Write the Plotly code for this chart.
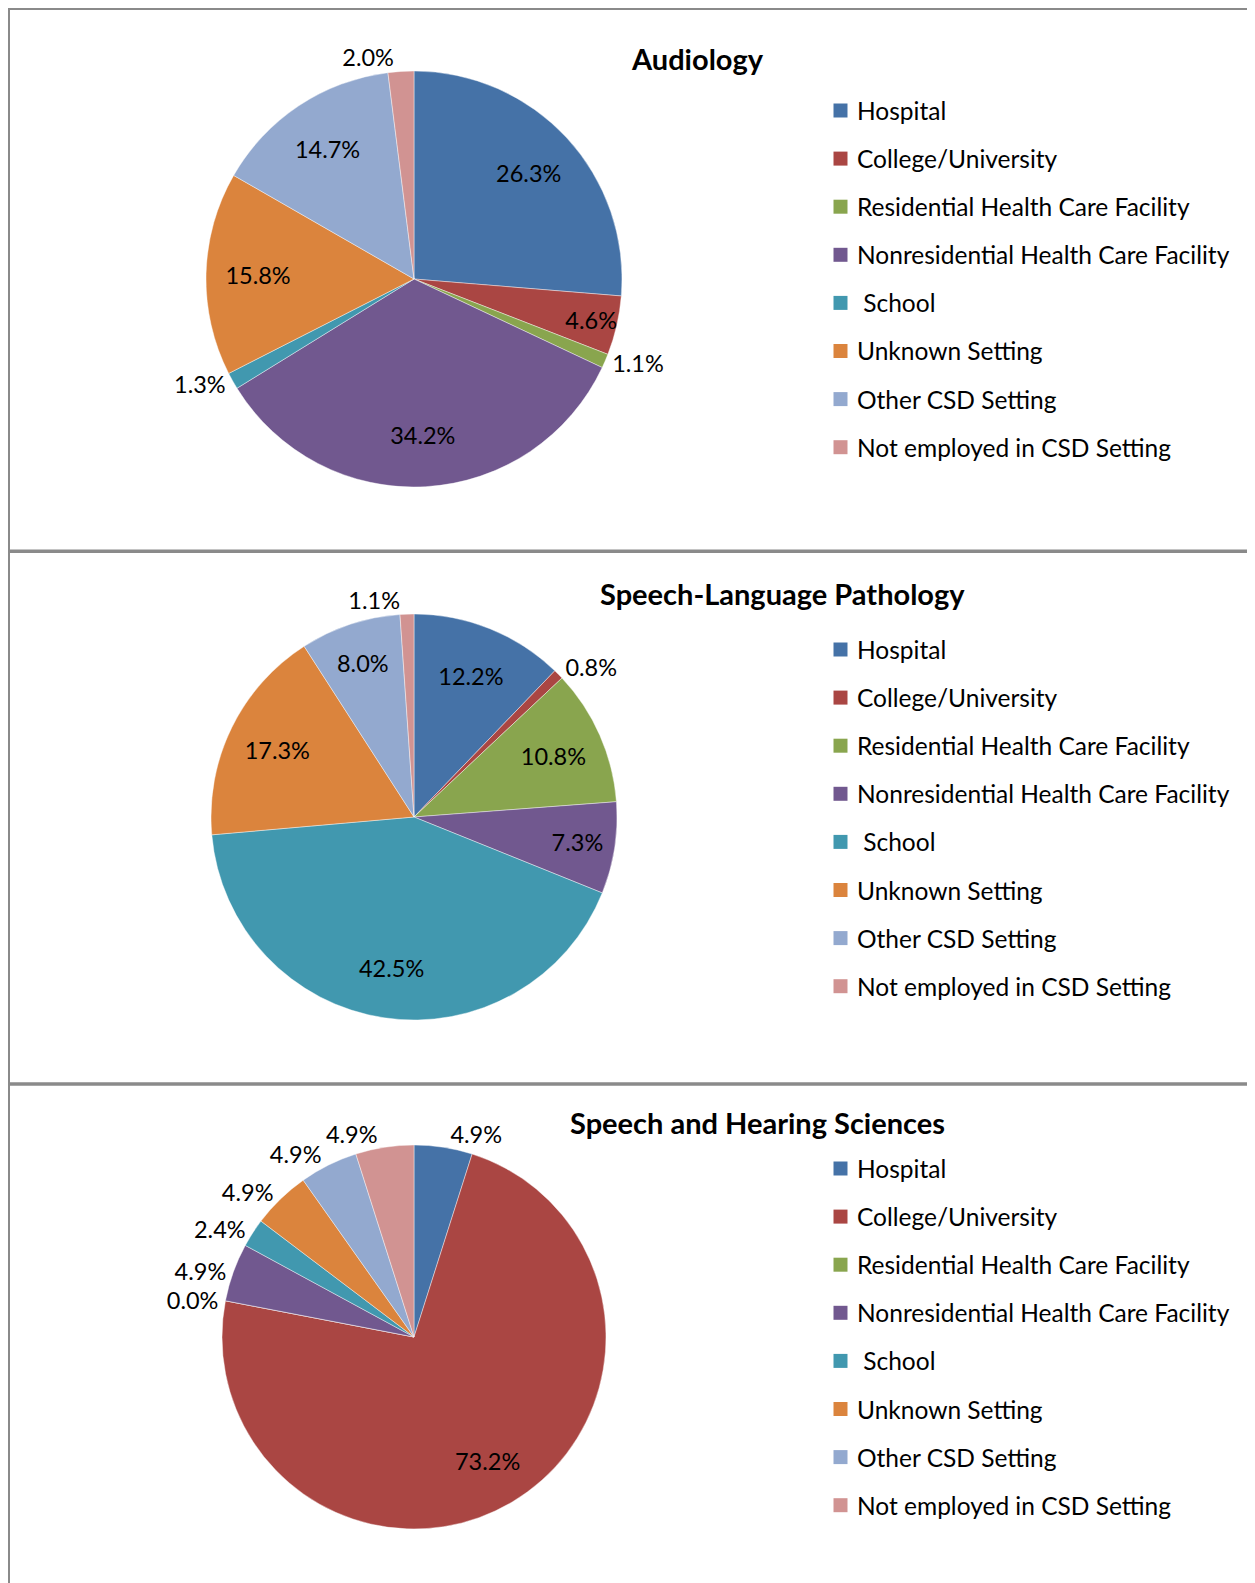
import plotly.graph_objects as go

# page is rendered with an 8px body margin, so the figure starts at (8, 8)
OFF = 8
W, H = 1247, 1575

# ---------------- data ----------------
categories = ["Hospital", "College/University", "Residential Health Care Facility",
              "Nonresidential Health Care Facility", " School", "Unknown Setting",
              "Other CSD Setting", "Not employed in CSD Setting"]
colors = ["#4572A7", "#AA4643", "#89A54E", "#71588F", "#4198AF", "#DB843D",
          "#93A9CF", "#D19392"]

titles = ["Audiology", "Speech-Language Pathology", "Speech and Hearing Sciences"]
audiology = [26.3, 4.6, 1.1, 34.2, 1.3, 15.8, 14.7, 2.0]
slp = [12.2, 0.8, 10.8, 7.3, 42.5, 17.3, 8.0, 1.1]
shs = [4.9, 73.2, 0.0, 4.9, 2.4, 4.9, 4.9, 4.9]
series = [audiology, slp, shs]

# ---------------- style / layout ----------------
FONT = "Lato, 'Open Sans', sans-serif"
label_pos = [
    ["inside", "inside", "outside", "inside", "outside", "inside", "inside", "outside"],
    ["inside", "outside", "inside", "inside", "inside", "inside", "inside", "outside"],
    ["outside", "inside", "outside", "outside", "outside", "outside", "outside", "outside"],
]
# which outside labels go on the transparent label layer (avoids stacked leader lines)
outside_on_layer = [
    [0, 0, 0, 0, 0, 0, 0, 0],
    [0, 0, 0, 0, 0, 0, 0, 0],
    [0, 0, 0, 0, 0, 0, 0, 1],
]
LABEL_HOLE = 0.5   # transparent label layer: puts inside labels ~3/4 of the radius out
# panel geometry in page pixels: pie centre, radius, title centre, legend first-row y, row step
panels = [
    dict(cx=414, cy=279, r=208, tx=697, ty=58, ly=110.5, step=48.1),
    dict(cx=414, cy=817, r=203, tx=782, ty=594, ly=649.5, step=48.1),
    dict(cx=414, cy=1337, r=192, tx=757, ty=1122, ly=1168.5, step=48.1),
]


def px(x):
    return (x - OFF) / W


def py(y):
    return 1 - (y - OFF) / H


fig = go.Figure()
annotations = []
shapes = []
text_font = dict(family=FONT, size=23.5, color="#000000")

for k, (vals, p) in enumerate(zip(series, panels)):
    dom = dict(x=[px(p["cx"] - p["r"]), px(p["cx"] + p["r"])],
               y=[py(p["cy"] + p["r"]), py(p["cy"] - p["r"])])
    pos_main, pos_layer = [], []
    for t, l in zip(label_pos[k], outside_on_layer[k]):
        if t == "inside" or l == 1:
            pos_main.append("none")
            pos_layer.append(t)
        else:
            pos_main.append(t)
            pos_layer.append("none")
    # coloured slices (+ outside labels)
    fig.add_trace(go.Pie(
        labels=categories,
        values=vals,
        sort=False,
        direction="clockwise",
        rotation=0,
        marker=dict(colors=colors, line=dict(color="rgba(255,255,255,0.7)", width=0.6)),
        texttemplate="%{value:.1f}%",
        textposition=pos_main,
        insidetextorientation="horizontal",
        textfont=text_font,
        showlegend=False,
        hoverinfo="label+value",
        domain=dom,
    ))
    # transparent label layer
    fig.add_trace(go.Pie(
        labels=categories,
        values=vals,
        sort=False,
        direction="clockwise",
        rotation=0,
        hole=LABEL_HOLE,
        marker=dict(colors=["rgba(0,0,0,0)"] * len(vals), line=dict(width=0)),
        texttemplate="%{value:.1f}%",
        textposition=pos_layer,
        insidetextorientation="horizontal",
        textfont=text_font,
        showlegend=False,
        hoverinfo="skip",
        domain=dom,
    ))
    # title
    annotations.append(dict(
        text="<b>%s</b>" % titles[k], x=px(p["tx"]), y=py(p["ty"]),
        xref="paper", yref="paper", xanchor="center", yanchor="middle",
        showarrow=False, font=dict(family=FONT, size=29, color="#000000")))
    # legend
    for i, (cat, col) in enumerate(zip(categories, colors)):
        yc = p["ly"] + i * p["step"]
        shapes.append(dict(type="rect", xref="paper", yref="paper",
                           x0=px(833.5), x1=px(847.5), y0=py(yc + 7), y1=py(yc - 7),
                           fillcolor=col, line=dict(width=0)))
        annotations.append(dict(
            text=cat, x=px(855), y=py(yc), xref="paper", yref="paper",
            xanchor="left", yanchor="middle", showarrow=False,
            font=dict(family=FONT, size=24.5, color="#000000")))

# panel borders
border = "#8a8a8a"
shapes.append(dict(type="line", xref="paper", yref="paper", x0=px(8), x1=px(1255),
                   y0=py(9), y1=py(9), line=dict(color=border, width=2)))
shapes.append(dict(type="line", xref="paper", yref="paper", x0=px(9), x1=px(9),
                   y0=py(8), y1=py(1583), line=dict(color=border, width=2)))
shapes.append(dict(type="line", xref="paper", yref="paper", x0=px(1254), x1=px(1254),
                   y0=py(9), y1=py(1583), line=dict(color="#d0d0d0", width=1.5)))
for yy in (551.3, 1084):
    shapes.append(dict(type="line", xref="paper", yref="paper", x0=px(8), x1=px(1255),
                       y0=py(yy), y1=py(yy), line=dict(color=border, width=3.5)))

fig.update_layout(
    width=W, height=H,
    margin=dict(l=0, r=0, t=0, b=0),
    paper_bgcolor="white", plot_bgcolor="white",
    annotations=annotations, shapes=shapes,
    uniformtext=dict(minsize=23.5, mode="show"),
    font=dict(family=FONT),
)

fig.write_html(
    "out.html",
    post_script="document.documentElement.style.overflow='hidden';"
                "document.body.style.overflow='hidden';",
)
